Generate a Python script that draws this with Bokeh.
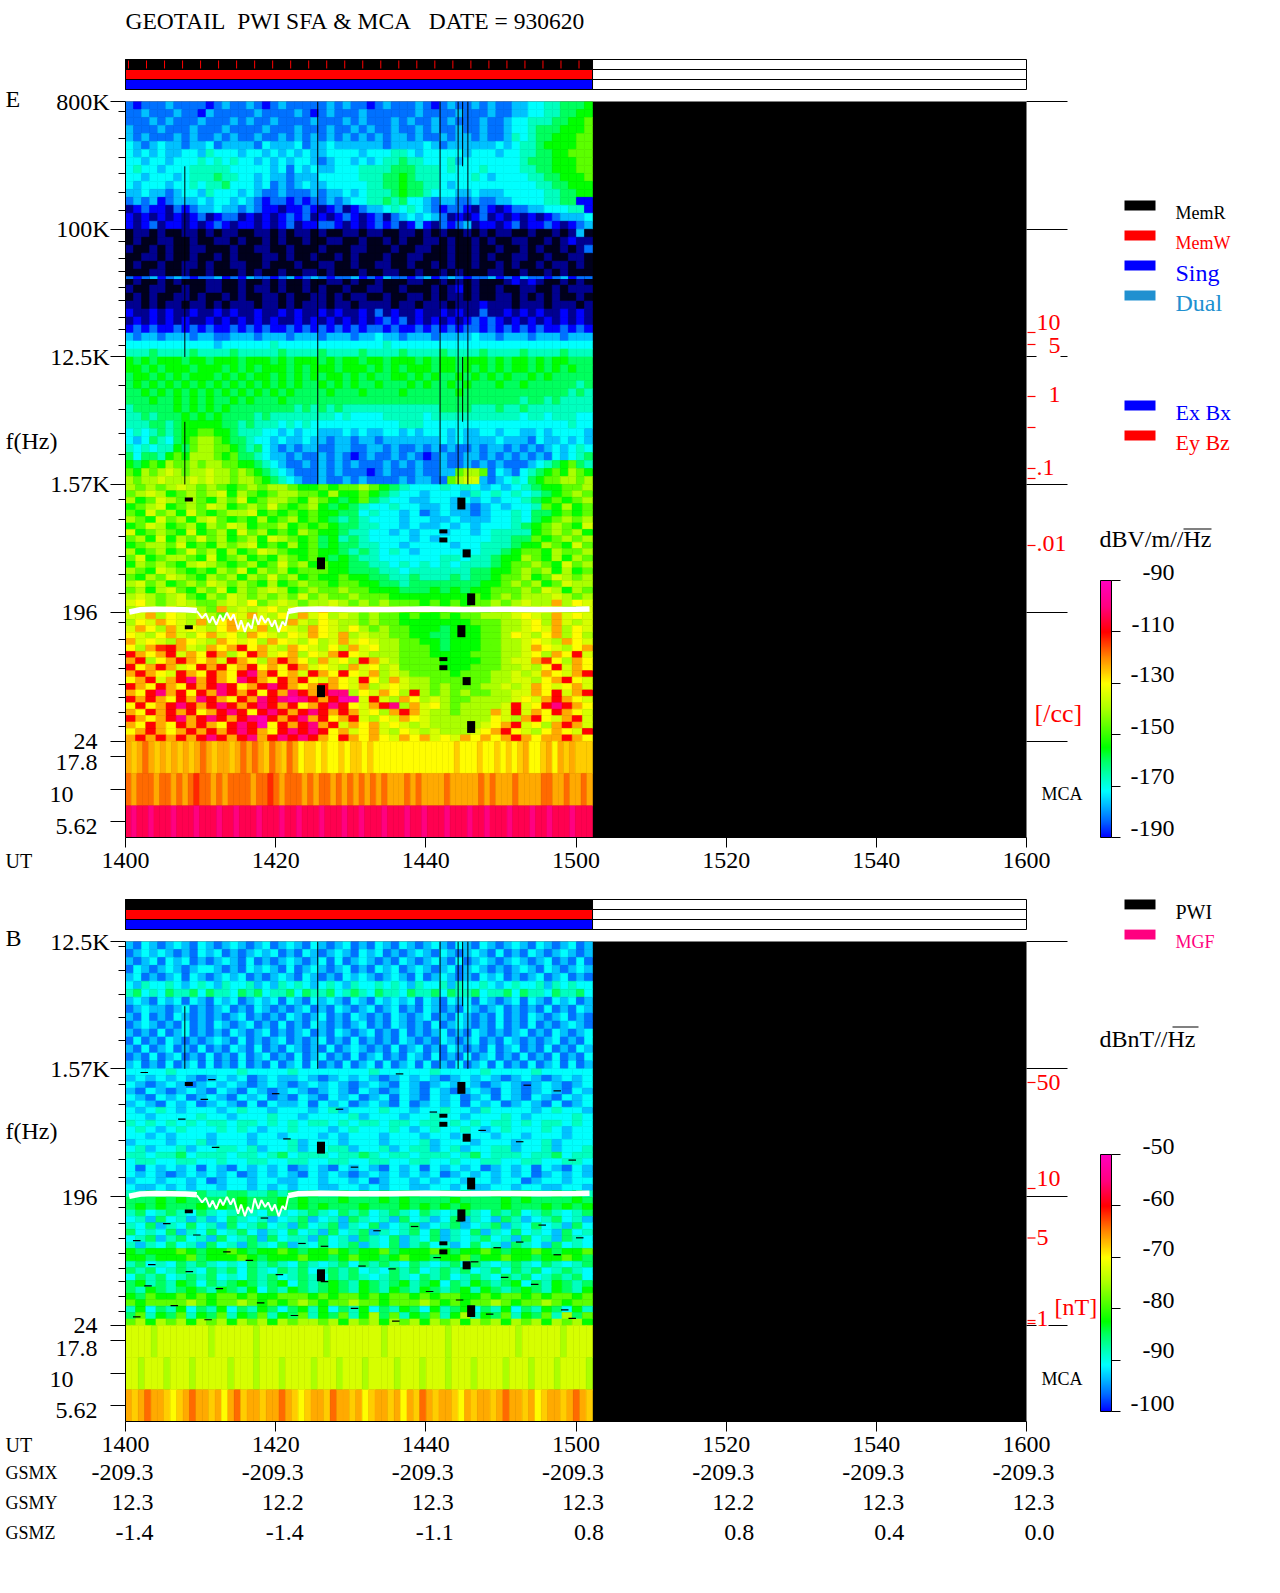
import numpy as np
from bokeh.plotting import figure
from bokeh.layouts import column
from bokeh.core.properties import value
from bokeh.models import (Range1d, LinearAxis, FixedTicker, ColorBar, LinearColorMapper, ColumnDataSource)
from bokeh.embed import file_html
from bokeh.resources import INLINE

TITLE = "GEOTAIL\u00a0\u00a0PWI\u00a0SFA\u00a0&\u00a0MCA\u00a0\u00a0\u00a0DATE\u00a0=\u00a0930620"
UT_TICKS = [840, 860, 880, 900, 920, 940, 960]
UT_LABELS = ["1400", "1420", "1440", "1500", "1520", "1540", "1600"]
GSMX = ["-209.3"] * 7
GSMY = ["12.3", "12.2", "12.3", "12.3", "12.2", "12.3", "12.3"]
GSMZ = ["-1.4", "-1.4", "-1.1", "0.8", "0.8", "0.4", "0.0"]
DATA_END = 902.2

# colour code -> dB on the E scale
LEVEL = {'a': -205, 'b': -198, '0': -190, '1': -183, '2': -177, '3': -172, '4': -167, '5': -160,
         '6': -155, '7': -147, '8': -140, '9': -135, 'y': -130, 'g': -126, 'o': -123, 'q': -118,
         'r': -113, 'R': -110, 'c': -104, 'p': -100, 'm': -93}
STOPS = [(-210, "#000000"), (-205, "#00001c"), (-198, "#000090"), (-190, "#0000ff"), (-183, "#0070ff"),
         (-177, "#00c0ff"), (-172, "#00ffff"), (-167, "#00ffc0"), (-160, "#00ff60"), (-155, "#00ff00"),
         (-140, "#aaff00"), (-130, "#ffff00"), (-120, "#ff8800"), (-110, "#ff0000"), (-100, "#ff0080"),
         (-90, "#ff00c0")]

E_TOP = [
"1011121111012112101211111212110121112101211212112233445556",
"1121112110211111211112101211121111112111121112112233445566",
"1112121112111212112111121112121112121121211121123344455667",
"2111211121112111121112111211212112112121121121123345556667",
"2121112121121211211212121212121212212112122121124345566677",
"3212322122312222132223122322222212222321222222323445666677",
"3232322332433323323232322333323334432333332333233445566777",
"3323323334343433232323321233232344544333423333333455566677",
"3433233344444333332313232233344445554443433343333445566677",
"3323332344454433232212223333344455654443333432333344556667",
"3233323343445333231212322333334455655443233333333334455666",
"2232212332433323211211121223234445655433322322233333445566",
"1212012223233232101101011212334454533212211211223333445500",
"b0100b1012232212100b0010b01b012234343210110b10b01122333440",
"0b0b0b0b01b011b0b0b0101b0b010b01b1232321b0b01b0b0b0b012223",
"0b01b00b0b010b00b0b01b00110b0b0101b020b1012b00b01b0010b012",
"abbabaabbababbaabbababbabaabbabbaabbababaabababbaabaabab2a",
"abaabbaabaabbabaababaabaabbaabaababaabbabaababaabbaabab0bb",
"baababaabbaaabaabbaabaaabaaabbaaabaabbaabaabaabaababaabab1",
"aabbabaabaababaaabbabaabaababaaabaabbaaabaababaabbaabaabba",
"abaabaabbabaabbaabaaabaabbaabaabbaabaababaabaababaababbaba",
"aaabbaabaabaaababaabaabbabaaabaabbaabaababaaabbaabaababaaa",
"abaababaaabbaabaababaabaabbabaabaaabbaabababaaab0b0baababa",
"baabbaabaabbaababbabaababaabaabbaabaaabab0abaabaabbaababbb",
"ababaabbabaababaabbabaabbababbaabaabbababbabaabbabababaaba",
"bbababbabbababbbabbababbbabbabbbbabbabbbabbb0bbbabbbabbbab",
"0bb0b0bb0bb0b0bb0bb0b0bb0b0bb0b1b0bb0bb0b0bb1bb0b0b0bb0b0b",
"b0b0b0b0bb0b0b0b0b0bb0b0b0b0b0b0101b0b0b0b01010b0b0b0b0b0b",
"0101001010100101010010101010101101001010101101010101001010",
"2122122212211222122212221222122322122212222322122212221222",
"3333333333323333334333333333333343333333333333333333333333",
"4445444454444544444544445444454444544445444454444544445444",
]
E_LINE = ["1012012101120102110120121011201021101201210112010211012011"]
E_MID = [
"6565666566566656665656665656656656665656656665656656566555",
"6656566656665656566656566656665656566656656565656656565655",
"5665656566656565665656565665656556656565565656565565655555",
"5656565656565656565656556565655655565655656555655655555545",
"5565656565656565656565555655565555655555565555555555555454",
"5556556565655656555655555555555555555555555555555455454444",
"4555556565656555555554545454444444444445555444544544444444",
"4454555656565555454444444434333344444344444444444344344433",
"4445545666665545444343433333333333444333333333333333333433",
"3434545667766544433232332223232233232333232233233223233332",
"3235435678876554332322322122122122222223232222322213223232",
"4343446578877654532121221122112212112121211212212121232343",
"5355467688876755432212112121012112121012112212121212132345",
"6567687787887766543211212121211121212112112121211123456754",
"7687898788988787654321112121110121112112278871321345676876",
"8788988898988788765432112112121111212211789921234356778878",
]
E_LOW = [
"8787898787678788766767787654333434323234566778",
"7898678789687678877686676543323332434343456787",
"8679878768796788768765675433223323232334567678",
"6789678798678797678656543343322322123233476867",
"7697869767889676767665534332312322123343556767",
"8769786897676867867654543332332232223343567878",
"6798678687986778676765544332322323233345678769",
"9678769678697867687665443323233233234444678786",
"7869687978678698767564543333232333334455767878",
"6788796768789676867565544332333323344456687697",
"8678679786867987667665454343233333344567768778",
"7967887696786768767656544333333443445668768687",
"6878768987678679786766554434343434445677876978",
"8769876768796878677766555443444444556678786867",
"7687987687868797867667665544544454556778679878",
"8978678798787686787767766554555555566787867988",
"7868976879687898678778776665556565667778798687",
"8987897687987878797877877766666666767878889878",
"9y8789877898y78987889878787776767677878988o8y9",
"8998y8987o8989y8989o989898887877878788989y9889",
"99o8y98987y9o98y8o9y8987877676676778889y98o9y9",
"8y9oy98o8yo98y98o98y98878776666666777889y8o989",
"9oy8o9y98yoy9o8y98oy98y87877666566677889y9o8y9",
"y98yo98yo9y8oy98y9oy9o8988776655666778y98yo8y8",
"o9y98oy98oy9y8oy98y89o9y9887766566677889y98oy9",
"y8orRo98oyoRyo98oy98y8o9y887776566677889oy98yo",
"RoyoR9oyRo8yRo9yo8y9oRy98887776666777889y8oyR9",
"oR8yoRoyo9Roy8oRoy8o9y8Ro987777666677899ory8oy",
"RyoRo9yRoRyoRyoyRo9y98o9y8977776667778898yR9oy",
"oRoy9RoyRoyRpoRyo9RoyRy9o8987777677788989oy9oR",
"yoR9oRpoRoypRoyRoRy9oy9Ry8o98877777788998yoRy9",
"RoyRoyRoRpRyoRpRoyoRoy9o89y9887877788989oy9yo9",
"oyRpoRyRopRoRyRopRoRpp8y9oy8R87878778899oyR9oR",
"RoRoyRopRoyRopRpmpRoRmm9R98oy8987788889y9oRoy9",
"yRyoRpRoRpRoRpRoRyoRpRy9oRp8o9y8788889R9yRpRoy",
"oyRoRoRyoRpRyRpRoRpRoRo9y8oRo9887888o9R9oyRoy9",
"RoyoRpoRpRoRpmRoRpoRyoR98y9oy9888888y98oRy9oR9",
"oyRoyRoRoyRpRmyRoRpoR9oyo9y989888889yoR9y8oRo9",
"yoRoyoRoRoRpRoyRpRpRyo9yo98y9898889yoRy98yoy9R",
"oRoRoRoRpRoRpoRpRpRoyRoyoy9oyo9y9oyoyoRoyooRoy",
]
E_MCA = [
"ogoqogogogogoqogoogoqoqogqogqoyggygyygyggygyyyyyyyyyyyyyygyyygyygygygoyygoyogoggg",
"qoqqqoqqoqoqrqqoqoqqqqoqqrqoqqqoqoqqoqoqoqoqoqoooqoqooooqoooooqoqoooqooooqqooqooqo",
"cpccpcccpcccpcccpccpcccpcccpccpcccpcccpccpcccpcccpccpcccpcccpccpcccpcccpccpcccpccc",
]
B_TOP = [
"2132123213212321231232132123121321321232132132123213212312",
"1232321213231212323121321232132312123213212321312132123212",
"2123132312123213121232123131232121321232131232123212312131",
"1321232123321213232131232123121323123212312321212321321232",
"2312123132123231212321321213232123213123212132312123123121",
"3243343234324334232434323432433434324334243343234334243433",
"4534354453544354534453544534543544354453544534453544354453",
"2321323132132312323132132321321323231321323132123132132312",
"1232212312123121321212312132123123121321213212312121312132",
"2131213212121231212132123121321213212312132121312132123121",
"1232121312132123121312132121231213212131232121312131212321",
"2121312312121321231212312132123121312123121321212312132123",
"1312132121232131212312123121312121321213212312132121231213",
"2131231213121321312132121312321213123121321213123121312132",
"1213123121312131231213123121312312132131213123121312131213",
"2312131231312131213123131213123131231312131231312131231312",
]
B_LOW = [
"3333433333343333433333334333334333343333433333",
"2323232123231232232123232123232123232123212323",
"3212321232321232123232123213212323212321232123",
"2132123213213212321232132123213212321321232132",
"3213231232132312132132312313213231231321321323",
"2321323123213132231323123213123231323123213123",
"3234323332343323332342333433233433243333234332",
"3323333433233343323333423332334332333432333343",
"4343434344344343434434344344344343434434344343",
"3432343334343233433323433343234334323433343233",
"3323233323332332333232333233323323332332333233",
"2333233423332333423332333233342333233323342333",
"3423342334434233423344233423442342334423342334",
"4434453444344345344434454344344434534443445344",
"3443344334334433443344334433443343344334433443",
"3132323132132323123213232132313232312323132132",
"3232123232312323213232123232323123232323123232",
"2332332312332332233233231233232332332331233233",
"3223232332332323233223323233223323223323322332",
"4454544544554454545445454545544545445455445454",
"5556565555565556565556555656555565555656555565",
"5656555656565556565655565556565656555655565656",
"4534543543454354345435453454354345435453454345",
"3425342423543423452342543425342352432542345342",
"4352435342534534253452435234523452345243534253",
"5343524353453243534253452434535243524353432534",
"3452453425345253442534254352435243453425342543",
"4243534253425435243534524352453423534254325343",
"6566676566765667656676566756667656676566765667",
"6656667566676566676656766567665667566766566765",
"4534354543435454354345354543543453543454354345",
"5453454354535435453454534354534545345354534543",
"3545345453435453454354543454354534543545345453",
"5645465354565456354565465456456354654563546545",
"5465456546546354654565465465465456465456546546",
"6576676767767667776767767677676776676776767767",
"7677778767787676787677877677787676778767787677",
"4635463546354653564635463546536456354635465364",
"5746574657465746574657468574657468465746574857",
"7868786878687868788786878687868786878687868786",
]
B_MCA = [
"9999899999999899999989999999999899999999899999999989999999999899999989999",
"9989998999899999899989998999989998999899998999899989998999989998999899998",
"ogoqoogygoqoogoyoqgoogooqogygoogqoogoygoogoyogqogoogyogoogoqoogoygoogoqog",
]

# log10 f of the frequency-band edges and of the MCA bands
LOG_800K, LOG_100K, LOG_12K, LOG_1K, LOG_196, LOG_24 = 5.903, 5.0, 4.097, 3.196, 2.292, 1.38
MCA_EDGES = [1.38, 1.153, 0.924, 0.70]
MCA_TICKS = [1.271, 1.042, 0.816]

# operations gaps: minute, upper and lower log10 f
DROP_MIN = [847.9, 884.2, 881.8, 881.8, 884.9, 865.5, 885.5, 847.9, 884.2, 881.8, 881.8, 884.9, 865.5, 885.5]
DROP_HI = [3.103, 3.103, 2.878, 2.821, 2.737, 2.680, 2.426, 2.201, 2.201, 1.975, 1.918, 1.834, 1.777, 1.523]
DROP_LO = [3.075, 3.019, 2.850, 2.786, 2.680, 2.596, 2.342, 2.173, 2.116, 1.947, 1.883, 1.777, 1.692, 1.439]
GAP_MIN = [847.9, 847.9, 865.6, 881.9, 884.3, 884.9, 884.9, 885.6]
GAP_HI = [5.445, 3.639, 5.903, 5.903, 5.903, 5.903, 4.097, 5.903]
GAP_LO = [4.097, 3.196, 3.196, 3.196, 3.196, 5.445, 3.639, 3.196]
# electron cyclotron trace
FCE_MIN = [840.5, 842, 844, 846, 848, 849.5, 861.7, 863, 866, 870, 875, 880, 885, 890, 895, 900, 901.8]
FCE_HZ = [197, 204, 206, 205, 204, 202, 199, 205, 207, 205, 205, 207, 205, 206, 205, 206, 207]
DIP_MIN = [849.5, 850.2, 850.7, 851.2, 851.6, 852.1, 852.6, 853, 853.5, 854, 854.4, 855, 855.4, 855.9, 856.3,
           856.8, 857.2, 857.7, 858.1, 858.6, 859, 859.5, 859.9, 860.4, 860.9, 861.3, 861.7]
DIP_HZ = [200, 178, 192, 165, 183, 160, 188, 170, 195, 172, 190, 148, 172, 142, 165, 150, 190, 160, 185, 165,
          178, 155, 172, 142, 168, 158, 199]
# thin black dashes in the magnetic channels
DASH_MIN = [842, 851, 859.5, 876, 893, 850, 868, 897, 847, 861, 880.5, 887, 851.5, 899, 870, 892, 845, 858, 873,
            884, 895, 841, 849, 863, 878, 889, 900, 853, 866, 881, 892, 843, 856, 871, 886, 897, 848, 860, 875,
            890, 842.5, 852, 866, 880, 894, 846, 857.5, 870, 884, 898, 841, 850.5, 862, 875.5, 888, 899]
DASH_LOG = [3.17, 3.12, 3.02, 3.16, 3.08, 2.98, 2.91, 3.04, 2.84, 2.70, 2.89, 2.76, 2.64, 2.55, 2.50, 2.68, 2.10,
            2.14, 2.05, 2.12, 2.09, 1.98, 2.02, 1.96, 2.08, 1.93, 2.00, 1.90, 1.94, 1.86, 1.97, 1.81, 1.84, 1.80,
            1.83, 1.88, 1.76, 1.74, 1.78, 1.72, 1.66, 1.64, 1.69, 1.62, 1.67, 1.52, 1.54, 1.50, 1.56, 1.49, 1.44,
            1.42, 1.45, 1.41, 1.46, 1.43]

E_TICKS = [LOG_800K, LOG_100K, LOG_12K, LOG_1K, LOG_196, LOG_24] + MCA_TICKS
E_LABELS = ["800K", "100K", "12.5K", "1.57K", "196\u00a0\u00a0", "24\u00a0\u00a0", "", "", ""]
E_MINOR = ([LOG_800K - d for d in (.068, .262, .396, .512, .646, .773)] +
           [LOG_100K - d for d in (.087, .205, .302, .412, .507, .622, .712, .820)] +
           [LOG_12K - d for d in (.2, .37, .54, .69)] +
           [LOG_1K - d for d in (.11, .25, .37, .51, .64, .77)] +
           [LOG_196 - d for d in (.075, .19, .30, .40, .51, .60, .71, .81)])
B_TICKS = [LOG_12K, LOG_1K, LOG_196, LOG_24] + MCA_TICKS
B_LABELS = E_LABELS[2:]
B_MINOR = ([LOG_12K - d for d in (.033, .205, .375, .54, .70)] + E_MINOR[-14:])
STATUS_TICKS = [840.4 + 2.4 * k for k in range(26)]

E_CB_TICKS = [-190, -170, -150, -130, -110, -90]
B_CB_TICKS = [-100, -90, -80, -70, -60, -50]

FONT = "Liberation Serif"
FS = "24px"
FL = 125
PX_MIN = 901 / 120
PAGE_W, PAGE_H = 1280, 1590


def interp_palette(n=480):
    xs = [s[0] for s in STOPS]
    rgb = np.array([[int(s[1][i:i + 2], 16) for i in (1, 3, 5)] for s in STOPS], float)
    grid = np.linspace(xs[0], xs[-1], n)
    out = np.stack([np.interp(grid, xs, rgb[:, k]) for k in range(3)], 1).round().astype(int)
    return ["#%02x%02x%02x" % tuple(c) for c in out], grid


PAL, PAL_DB = interp_palette()
BAR_PAL = [c for c, d in zip(PAL, PAL_DB) if d >= -190]


def add_grid(store, rows, hi, lo, to_db):
    edges = np.linspace(hi, lo, len(rows) + 1)
    for i, r in enumerate(rows):
        xs = np.linspace(840, DATA_END, len(r) + 1)
        for j, ch in enumerate(r):
            store["l"].append(xs[j]); store["r"].append(xs[j + 1])
            store["t"].append(edges[i]); store["b"].append(edges[i + 1])
            store["v"].append(to_db(LEVEL[ch]))


def panel(height, top, bottom_page, ylow, yhigh, ticks, labels, minor):
    p = figure(width=PAGE_W, height=height, x_range=Range1d(840, 960), y_range=Range1d(ylow, yhigh),
               output_backend="svg", toolbar_location=None, background_fill_color="black",
               min_border_left=FL, min_border_right=254, min_border_top=top, min_border_bottom=bottom_page,
               outline_line_color=None, border_fill_color="white")
    p.grid.visible = False
    xa = p.xaxis[0]
    xa.ticker = FixedTicker(ticks=UT_TICKS, minor_ticks=[])
    xa.major_label_overrides = dict(zip(UT_TICKS, UT_LABELS))
    ya = p.yaxis[0]
    ya.ticker = FixedTicker(ticks=ticks, minor_ticks=minor)
    ya.major_label_overrides = dict(zip(ticks, labels))
    for ax, out, gap in ((xa, 10, 5), (ya, 15, 1)):
        ax.major_tick_in = 0; ax.major_tick_out = out
        ax.minor_tick_in = 0; ax.minor_tick_out = 7
        ax.major_label_text_font = FONT; ax.major_label_text_font_size = FS
        ax.major_label_text_color = "black"; ax.axis_line_color = "black"
        ax.major_tick_line_color = "black"; ax.minor_tick_line_color = "black"
        ax.major_label_standoff = gap
    ya.major_label_orientation = "horizontal"
    rt = ticks[:-3]
    ra = LinearAxis(ticker=FixedTicker(ticks=rt, minor_ticks=[]), major_tick_in=0, major_tick_out=41,
                    axis_line_color=None, minor_tick_line_color=None, major_tick_line_color="black",
                    major_label_overrides={t: "" for t in rt})
    p.add_layout(ra, "right")
    return p


def draw_panel(p, to_db, low, high, grids, gap_top):
    store = dict(l=[], r=[], t=[], b=[], v=[])
    for rows, hi, lo in grids:
        add_grid(store, rows, hi, lo, to_db)
    mapper = LinearColorMapper(palette=PAL, low=low, high=high, nan_color="black")
    c = {"field": "v", "transform": mapper}
    p.quad(left="l", right="r", top="t", bottom="b", source=ColumnDataSource(store), fill_color=c, line_color=c,
           line_width=0.6)
    gap = [(m, min(h, gap_top), l) for m, h, l in zip(GAP_MIN, GAP_HI, GAP_LO) if l < gap_top]
    p.segment(x0=[g[0] for g in gap], x1=[g[0] for g in gap], y0=[g[1] for g in gap], y1=[g[2] for g in gap],
              line_color="black", line_width=1)
    p.quad(left=DROP_MIN, right=[m + 1.07 for m in DROP_MIN], top=DROP_HI, bottom=DROP_LO, fill_color="black",
           line_color=None)
    p.line(x=FCE_MIN[:6], y=np.log10(FCE_HZ[:6]), line_color="white", line_width=5.5)
    p.line(x=FCE_MIN[6:], y=np.log10(FCE_HZ[6:]), line_color="white", line_width=5.5)
    p.line(x=DIP_MIN, y=np.log10(DIP_HZ), line_color="white", line_width=2)


def colorbar(low, high, ticks, y):
    return ColorBar(color_mapper=LinearColorMapper(palette=BAR_PAL, low=low, high=high),
                    ticker=FixedTicker(ticks=ticks, minor_ticks=[]), location=(1100 - FL, y), width=11,
                    height=257, padding=0, margin=0, major_tick_in=0, major_tick_out=9,
                    major_tick_line_color="black", minor_tick_line_color=None, bar_line_color="black",
                    background_fill_color=None, border_line_color=None,
                    major_label_overrides={t: "" for t in ticks})


# ---------- E panel ----------
E = panel(880, 101, 43, MCA_EDGES[-1], LOG_800K, E_TICKS, E_LABELS, E_MINOR)
draw_panel(E, lambda d: d, -210, -90,
           [(E_TOP, LOG_800K, LOG_12K), (E_MID, LOG_12K, LOG_1K), (E_LOW, LOG_1K, LOG_24),
            ([E_MCA[0]], MCA_EDGES[0], MCA_EDGES[1]), ([E_MCA[1]], MCA_EDGES[1], MCA_EDGES[2]),
            ([E_MCA[2]], MCA_EDGES[2], MCA_EDGES[3])], LOG_800K + 1)
store = dict(l=[], r=[], t=[], b=[], v=[])
add_grid(store, E_LINE, 4.668, 4.648, lambda d: d)
E.quad(left="l", right="r", top="t", bottom="b", source=ColumnDataSource(store),
       fill_color={"field": "v", "transform": LinearColorMapper(palette=PAL, low=-210, high=-90)}, line_color=None)
E.add_layout(colorbar(-190, -90, E_CB_TICKS, 0))

# ---------- B panel ----------
to_b = lambda d: -100 + (d + 190) / 2
B = panel(710, 61, 169, MCA_EDGES[-1], LOG_12K, B_TICKS, B_LABELS, B_MINOR)
draw_panel(B, to_b, -110, -50,
           [(B_TOP, LOG_12K, LOG_1K), (B_LOW, LOG_1K, LOG_24),
            ([B_MCA[0]], MCA_EDGES[0], MCA_EDGES[1]), ([B_MCA[1]], MCA_EDGES[1], MCA_EDGES[2]),
            ([B_MCA[2]], MCA_EDGES[2], MCA_EDGES[3])], LOG_12K)
B.segment(x0=DASH_MIN, x1=[m + 1.0 for m in DASH_MIN], y0=DASH_LOG, y1=DASH_LOG, line_color="black", line_width=1.2)
B.add_layout(colorbar(-100, -50, B_CB_TICKS, 10))

# ---------- page layer with every text and mark outside the two frames ----------
O = figure(width=PAGE_W, height=PAGE_H, x_range=Range1d(0, PAGE_W), y_range=Range1d(PAGE_H, 0),
           output_backend="svg", toolbar_location=None, x_axis_type=None, y_axis_type=None,
           min_border=0, outline_line_color=None, background_fill_color=None, border_fill_color=None,
           styles={"position": "absolute", "top": "0px", "left": "0px"})
O.grid.visible = False
O.extra_x_ranges = {"ut": Range1d(840 - FL / PX_MIN, 840 + (PAGE_W - FL) / PX_MIN)}


def lab(x, y, t, color="black", size=FS, align="left", rng="default"):
    O.text(x=[x], y=[y], text=[t], text_color=color, text_font=value(FONT), text_font_size=value(size),
           text_align=align, text_baseline="middle", x_range_name=rng)


def box(x0, x1, y0, y1, color):
    O.quad(left=[x0], right=[x1], top=[y0], bottom=[y1], fill_color=color, line_color=None)


def status(ys):
    for i in range(3):
        O.quad(left=[840], right=[960], top=[ys[i]], bottom=[ys[i + 1]], fill_color="white", line_color="black",
               line_width=1, x_range_name="ut")
    for i, col in enumerate(["black", "red", "blue"]):
        O.quad(left=[840], right=[DATA_END], top=[ys[i]], bottom=[ys[i + 1]], fill_color=col, line_color="black",
               line_width=1, x_range_name="ut")


lab(125, 20, TITLE, size="23.5px")
lab(5, 98, "E")
lab(5, 440, "f(Hz)")
lab(5, 860, "UT", size="20px")
status([59, 69, 79, 89])
O.segment(x0=STATUS_TICKS, x1=STATUS_TICKS, y0=[60] * 26, y1=[68] * 26, line_color="red", line_width=1,
          x_range_name="ut")
for y, t in [(762, "17.8"), (793, "10\u00a0\u00a0\u00a0\u00a0"), (826, "5.62")]:
    lab(97, y, t, align="right")
O.segment(x0=[1027] * 7, x1=[1035] * 7, y0=[332, 344, 396, 427, 468, 478, 545], y1=[332, 344, 396, 427, 468, 478, 545],
          line_color="red", line_width=1.2)
box(1036, 1060, 352, 360, "white")
for x, y, t in [(1036, 322, "10"), (1048, 345, "5"), (1048, 394, "1"), (1036, 467, ".1"), (1036, 543, ".01")]:
    lab(x, y, t, "red")
lab(1034, 713, "[/cc]", "red", "26px")
lab(1041, 793, "MCA", size="18px")
for y, t, col, s in [(212, "MemR", "black", "18px"), (242, "MemW", "red", "18px"), (272, "Sing", "blue", "24px"),
                     (302, "Dual", "#2090d0", "24px"), (412, "Ex\u00a0Bx", "blue", "22px"),
                     (442, "Ey\u00a0Bz", "red", "22px")]:
    box(1124, 1155, y - 12, y - 2, col)
    lab(1175, y, t, col, s)
lab(1099, 538, "dBV/m//Hz")
box(1183, 1211, 528, 529, "black")
for d, y in zip(E_CB_TICKS, [828, 776, 726, 674, 624, 572]):
    lab(1174, y, str(d), align="right")

lab(5, 937, "B")
lab(5, 1130, "f(Hz)")
lab(5, 1444, "UT", size="20px")
status([899, 909, 919, 929])
for y, t in [(1348, "17.8"), (1378, "10\u00a0\u00a0\u00a0\u00a0"), (1410, "5.62")]:
    lab(97, y, t, align="right")
O.segment(x0=[1027] * 5, x1=[1035] * 5, y0=[1082, 1188, 1237.5, 1320, 1323], y1=[1082, 1188, 1237.5, 1320, 1323],
          line_color="red", line_width=1.2)
box(1036, 1048, 1320, 1328, "white")
for x, y, t in [(1036, 1082, "50"), (1036, 1178, "10"), (1036, 1237, "5"), (1036, 1318, "1")]:
    lab(x, y, t, "red")
lab(1054, 1306, "[nT]", "red")
lab(1041, 1378, "MCA", size="18px")
for y, t, col in [(911.6, "PWI", "black"), (941.7, "MGF", "#ff0080")]:
    box(1124, 1155, y - 12.6, y - 2.7, col)
    lab(1175, y, t, col, "18px" if t == "MGF" else "20px")
lab(1099, 1038, "dBnT//Hz")
box(1172, 1198, 1026, 1027, "black")
for d, y in zip(B_CB_TICKS, [1403, 1350, 1300, 1248, 1198, 1146]):
    lab(1174, y, str(d), align="right")
for name, vals, y in [("GSMX", GSMX, 1472), ("GSMY", GSMY, 1502), ("GSMZ", GSMZ, 1532)]:
    lab(5, y, name, size="18px")
    for t, v in zip(UT_TICKS, vals):
        O.text(x=[t], y=[y], x_offset=[28], text=[v], text_font=value(FONT), text_font_size=value(FS),
               text_align="right", text_baseline="middle", text_color="black", x_range_name="ut")

page = column(E, B, spacing=0)
open("out.html", "w").write(file_html([page, O], INLINE))
